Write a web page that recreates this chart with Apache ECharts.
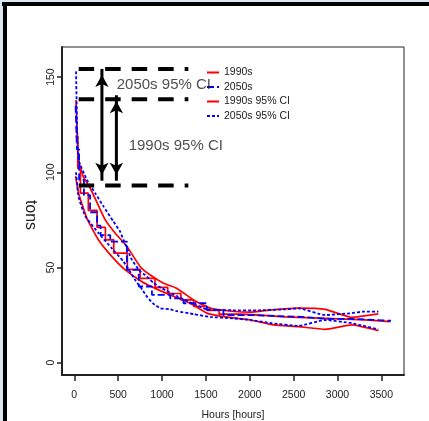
<!DOCTYPE html>
<html><head><meta charset="utf-8">
<script src="https://cdn.jsdelivr.net/npm/echarts@6/dist/echarts.min.js"></script>
<style>html,body{margin:0;padding:0;background:#fff}#c{width:429px;height:421px}</style>
</head><body><div id="c"></div>
<script>
// ---- data (hours, tons) ----
const xTicks = [0, 500, 1000, 1500, 2000, 2500, 3000, 3500];
const yTicks = [0, 50, 100, 150];
const step1990 = [[15,119],[40,102],[70,89],[160,80],[260,71],[355,64.5],[450,57.5],[605,49],[750,44.3],[920,39.5],[1065,36.3],[1215,33],[1360,29.5],[1510,27.5],[1650,25.5],[1900,25],[2120,24],[2400,23.5],[2710,23],[3010,22.5],[3310,21.5],[3600,21.5]];
const step2050 = [[15,135],[30,112],[55,96],[110,88],[180,79],[260,72],[300,67],[410,63.6],[600,48.7],[735,40],[885,35.6],[1093,33.8],[1245,31.2],[1510,27.7],[1700,25],[2000,24.5],[2300,24],[2600,23],[2900,23],[3150,22.5],[3400,22],[3610,22]];
const ci1990Upper = [[20,138],[49,106.5],[100,98],[182,91.6],[260,84],[353,75],[467,68],[600,61],[752,50.4],[866,46],[1017,41.7],[1170,39],[1359,32.9],[1549,28.6],[1800,27],[2005,26.5],[2250,27.7],[2555,28.6],[2860,28],[3163,23.8],[3466,25.6]];
const ci1990Lower = [[15,98],[49,89],[144,75.8],[277,64.4],[429,55.7],[581,48.7],[771,42.5],[923,39],[1093,35.6],[1321,31.2],[1511,26],[1701,24.2],[2005,22.4],[2270,19.8],[2555,18.9],[2860,17.5],[3163,19.8],[3466,16.8]];
const ci2050Upper = [[20,153],[35,118],[49,106.5],[144,96],[239,89],[334,82],[448,74],[520,69],[562,64.4],[657,54],[750,48],[809,46],[900,42],[1000,39],[1170,35],[1350,31],[1511,28],[1800,27.5],[2100,27.5],[2400,28],[2555,28.5],[2860,25],[3163,26],[3300,26.8],[3466,26.8]];
const ci2050Lower = [[20,100],[49,87],[125,77],[277,68],[429,60],[562,53],[695,43.4],[780,38],[828,34.7],[900,31],[980,28.6],[1093,28],[1170,27],[1360,25.5],[1550,24],[1800,23.3],[2005,22.4],[2252,20.7],[2555,19.3],[2860,22.4],[3163,20.7],[3466,17.5]];
const legendNames = ['1990s', '2050s', '1990s 95% CI', '2050s 95% CI'];
const guideY = [154.3, 138.4, 93];
const guideX = [50, 1300];
const arrowX = [315, 480];
const arrowTop = [154.2, 140.5];
const arrowBottom = [95.5, 95.5];
const noteText = ['2050s 95% CI', '1990s 95% CI'];
const noteX = [484, 620];
const noteY = [145.9, 114];
const xTitle = 'Hours [hours]';
const yTitle = 'tons';

const RED = '#ff0000', BLUE = '#0000ff', INK = '#222';
const FONT = 'Liberation Sans, Arial, sans-serif';

const chart = echarts.init(document.getElementById('c'), null, {renderer: 'canvas'});

function lineSeries(name, data, color, type, extra) {
  return Object.assign({
    name: name, type: 'line', data: data, symbol: 'none', showSymbol: false,
    lineStyle: {color: color, width: 1.7, type: type}, itemStyle: {color: color},
    animation: false, silent: true
  }, extra || {});
}

const series = [
  lineSeries('1990s', step1990, RED, 'solid', {step: 'end'}),
  lineSeries('1990s 95% CI', ci1990Upper, RED, 'solid', {smooth: 0.15}),
  lineSeries('1990s 95% CI', ci1990Lower, RED, 'solid', {smooth: 0.15}),
  lineSeries('2050s', step2050, BLUE, [7, 3], {step: 'end', lineStyle: {color: BLUE, width: 1.8, type: [7, 3]}}),
  lineSeries('2050s 95% CI', ci2050Upper, BLUE, [3, 2], {smooth: 0.15, lineStyle: {color: BLUE, width: 1.8, type: [3, 2]}}),
  lineSeries('2050s 95% CI', ci2050Lower, BLUE, [3, 2], {smooth: 0.15, lineStyle: {color: BLUE, width: 1.8, type: [3, 2]}})
];

guideY.forEach(function (y) {
  series.push({
    type: 'line', data: guideX.map(function (x) { return [x, y]; }), symbol: 'none',
    lineStyle: {color: '#000', width: 4, type: [15.5, 11]}, animation: false, silent: true, z: 5
  });
});

arrowX.forEach(function (x, i) {
  series.push({
    type: 'line', symbol: 'arrow', symbolSize: [10, 12], showSymbol: true,
    data: [
      {value: [x, arrowTop[i]], symbolRotate: 0, symbolOffset: [0, 6]},
      {value: [x, arrowBottom[i]], symbolRotate: 180, symbolOffset: [0, -6]}
    ],
    lineStyle: {color: '#000', width: 3}, itemStyle: {color: '#000'},
    animation: false, silent: true, z: 6
  });
});

series.push({
  type: 'scatter', symbolSize: 0, silent: true, animation: false, z: 7,
  data: noteText.map(function (t, i) { return {value: [noteX[i], noteY[i]], name: t}; }),
  label: {show: true, position: 'inside', align: 'left', verticalAlign: 'middle',
    formatter: function (p) { return p.name; }, fontFamily: FONT, fontSize: 15, color: INK}
});

chart.setOption({
  backgroundColor: '#fff',
  animation: false,
  grid: {left: 62, right: 25, top: 47, bottom: 46, show: true, borderColor: INK, borderWidth: 1, containLabel: false},
  xAxis: {
    type: 'value', min: -140, max: 3758,
    axisLine: {show: true, onZero: false, lineStyle: {color: INK, width: 2}},
    axisTick: {show: true, length: 6, customValues: xTicks, lineStyle: {color: INK, width: 1.5}},
    axisLabel: {customValues: xTicks, margin: 15, fontFamily: FONT, fontSize: 10.5, color: INK,
      formatter: function (v) { return String(v); }},
    splitLine: {show: false}
  },
  yAxis: {
    type: 'value', min: -6.5, max: 165.8,
    axisLine: {show: true, onZero: false, lineStyle: {color: INK, width: 2}},
    axisTick: {show: true, length: 5, customValues: yTicks, lineStyle: {color: INK, width: 1.5}},
    axisLabel: {customValues: yTicks, rotate: 90, margin: 5, fontFamily: FONT, fontSize: 10.5, color: INK,
      formatter: function (v) { return String(v); }},
    splitLine: {show: false}
  },
  legend: {
    data: legendNames, orient: 'vertical', left: 206, top: 67, padding: 0,
    itemWidth: 12, itemHeight: 10, itemGap: 3.5,
    itemStyle: {opacity: 0},
    textStyle: {fontFamily: FONT, fontSize: 10.5, color: INK, lineHeight: 10},
    selectedMode: false
  },
  graphic: [
    {type: 'rect', left: 0, top: 0, shape: {width: 429, height: 2}, style: {fill: '#dbe7f2'}, silent: true},
    {type: 'rect', left: 0, top: 0, shape: {width: 3, height: 421}, style: {fill: '#dbe7f2'}, silent: true},
    {type: 'rect', left: 2, top: 2, shape: {width: 427, height: 4}, style: {fill: '#000'}, silent: true},
    {type: 'rect', left: 3, top: 2, shape: {width: 4, height: 419}, style: {fill: '#000'}, silent: true},
    {type: 'text', x: 233, y: 415, style: {text: xTitle, font: '10.5px ' + FONT, fill: INK, textAlign: 'center', textVerticalAlign: 'middle'}, silent: true},
    {type: 'text', x: 30, y: 215, rotation: -Math.PI / 2, style: {text: yTitle, font: '16px ' + FONT, fill: INK, textAlign: 'center', textVerticalAlign: 'middle'}, silent: true}
  ],
  series: series
});
</script>
</body></html>
